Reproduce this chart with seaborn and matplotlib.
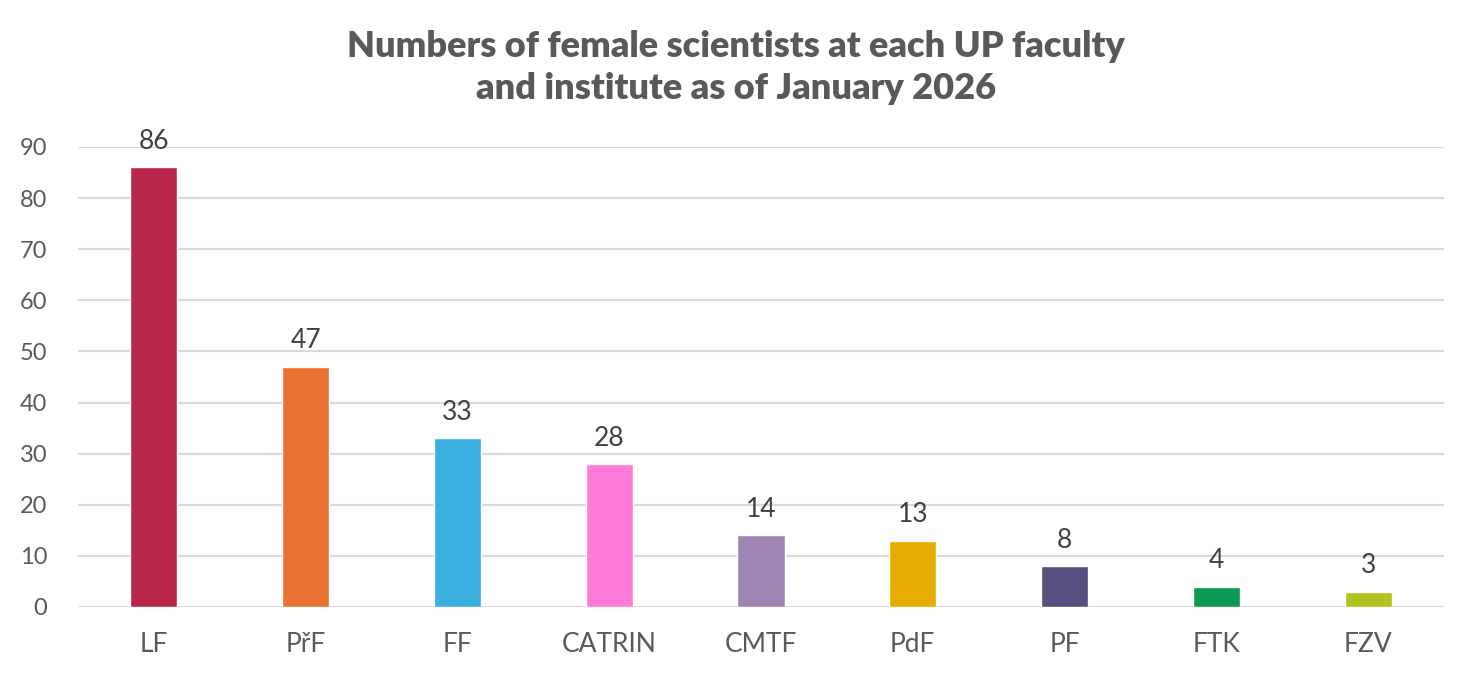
import numpy as np
import matplotlib.pyplot as plt
import seaborn as sb
import pandas as pd

# hodnoty
faculties = ["LF", "PřF", "FF", "CATRIN", "CMTF", "PdF", "PF", "FTK", "FZV"]
counts = [86, 47, 33, 28, 14, 13, 8, 4, 3]
colors = ["#B8274A", "#E97233", "#3AAFE0", "#FF79D8", "#A084B5",
          "#E6AC00", "#574F80", "#0B9A52", "#AFC420"]
yticks = [0, 10, 20, 30, 40, 50, 60, 70, 80, 90]

df = pd.DataFrame({"faculty": faculties, "count": counts})

sb.set_style("white")
plt.rcParams['font.family'] = ['Lato', 'DejaVu Sans']

fig = plt.figure(figsize=(14.72, 6.77), dpi=100)
ax = fig.add_axes([0.053, 0.1034, 0.928, 0.6795])

sb.barplot(data=df, x="faculty", y="count", hue="faculty", palette=colors,
           legend=False, width=0.31, saturation=1, ax=ax)

for i, v in enumerate(counts):
    ax.text(i, v + 2.6, str(v), ha="center", va="bottom", fontsize=19, color="#404040")

ax.set_ylim(0, 90)
ax.set_xlim(-0.5, len(faculties) - 0.5)
ax.set_yticks(yticks)
ax.yaxis.grid(True, color="#D9D9D9", linewidth=1.5)
ax.set_axisbelow(True)
for s in ax.spines.values():
    s.set_visible(False)
ax.tick_params(axis="y", labelsize=17, labelcolor="#595959", length=0, pad=22)
ax.tick_params(axis="x", labelsize=19, labelcolor="#595959", length=0, pad=18)
ax.set_xlabel("")
ax.set_ylabel("")

fig.text(0.5, 0.9, "Numbers of female scientists at each UP faculty\nand institute as of January 2026",
         ha="center", va="center", fontsize=26, fontweight="heavy", color="#595959", linespacing=1.32)

fig.savefig("out.png", dpi=100)
